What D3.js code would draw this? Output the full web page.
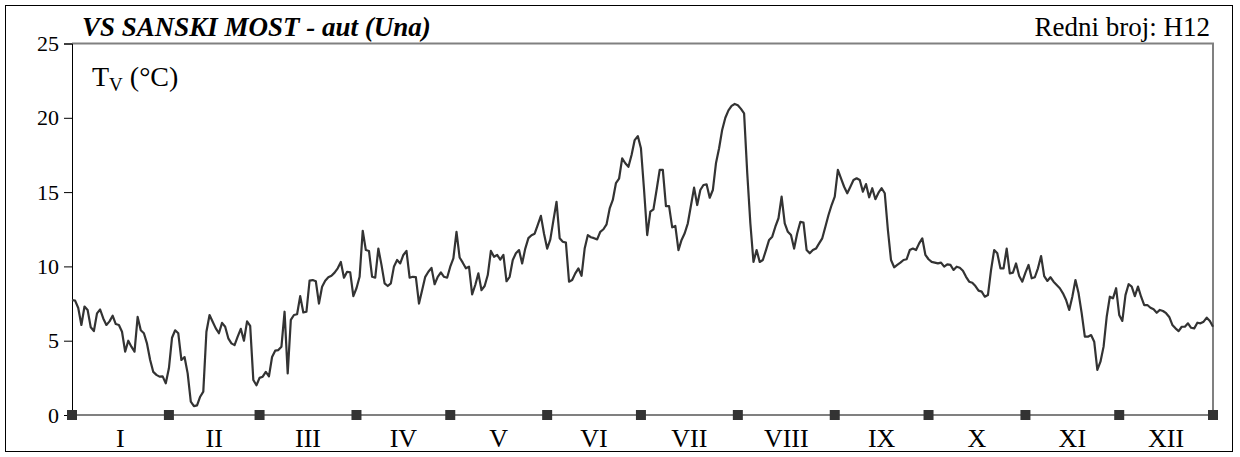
<!DOCTYPE html>
<html><head><meta charset="utf-8">
<script src="https://cdn.jsdelivr.net/npm/d3@7"></script>
<style>body{margin:0;background:#fff}svg{display:block}text{font-family:"Liberation Serif","Times New Roman",serif;fill:#000}</style>
</head><body><svg id="c" width="1240" height="457"></svg>
<script>
// Daily water temperature by month (°C)
const jan=[7.74,7.7,7.2,6.06,7.3,7.07,5.9,5.65,6.84,7.1,6.5,6.06,6.3,6.68,6.12,6.06,5.6,4.26,5.0,4.6,4.26,6.6,5.7,5.5,4.8,3.7,2.9,2.7,2.58,2.6,2.13];
const feb=[3.14,5.2,5.7,5.5,3.7,3.9,2.8,0.9,0.6,0.65,1.23,1.57,5.6,6.73,6.28,5.83,5.5,6.2,5.94,5.16,4.82,4.7,5.27,5.8,5.0,6.3,6.0,2.36,2.0];
const mar=[2.5,2.58,2.9,2.6,3.9,4.33,4.37,4.6,6.95,2.8,6.4,6.73,6.78,8.0,6.9,6.95,9.04,9.08,9.0,7.5,8.63,9.04,9.27,9.37,9.58,9.87,10.3,9.24,9.64,9.6,8.0];
const apr=[8.53,9.3,12.4,11.1,11.04,9.3,9.24,11.2,10.1,8.86,8.68,8.86,10.0,10.43,10.2,10.77,11.04,9.24,9.3,9.28,7.5,8.4,9.3,9.64,9.9,8.8,9.3,9.6,9.3,9.24];
const may=[9.98,10.54,12.33,10.6,10.25,9.87,9.98,8.12,8.75,9.53,8.4,8.68,9.42,11.04,10.65,10.77,10.45,10.77,9.0,9.3,10.43,10.88,11.1,10.2,11.2,11.9,12.1,12.2,12.8,13.4,12.2];
const jun=[11.2,11.8,13.1,14.35,11.9,11.66,11.6,8.97,9.08,9.53,9.87,9.37,11.2,12.1,11.96,11.9,11.82,12.33,12.5,12.83,13.9,14.47,15.6,15.9,17.27,16.94,16.7,17.5,18.5,18.77];
const jul=[17.95,15.14,12.11,13.68,13.84,15.14,16.49,16.49,14.06,14.06,12.63,12.72,11.1,11.78,12.23,12.9,14.1,15.3,14.13,15.14,15.48,15.52,14.62,15.14,16.94,17.95,19.2,20.0,20.5,20.8,20.93];
const aug=[20.85,20.6,20.3,16.3,12.9,10.3,11.1,10.3,10.43,11.1,11.78,12.0,12.67,13.24,14.7,12.9,12.33,12.11,11.2,12.23,13.0,12.95,11.1,10.88,11.1,11.2,11.55,11.89,12.67,13.46,14.13];
const sep=[14.7,16.49,15.93,15.36,14.92,15.36,15.81,15.93,15.81,15.03,15.54,14.65,15.26,14.52,14.96,15.26,14.92,12.45,10.43,9.94,10.1,10.25,10.43,10.48,11.1,11.2,11.1,11.55,11.89,10.77];
const oct=[10.48,10.3,10.25,10.2,10.25,9.98,10.14,10.1,9.76,9.98,9.91,9.71,9.3,8.97,8.9,8.68,8.37,8.3,7.96,8.07,9.76,11.1,10.88,9.87,9.87,11.2,9.53,9.58,10.2,9.35,8.97];
const nov=[9.58,10.1,9.2,9.27,9.87,10.7,9.35,9.02,9.27,8.97,8.75,8.53,8.19,7.74,7.07,7.96,9.08,8.19,6.84,5.27,5.27,5.38,4.93,3.03,3.59,4.6,6.62,7.96,7.85,8.53];
const dec=[6.73,6.33,8.07,8.8,8.64,8.0,8.64,7.96,7.4,7.4,7.22,7.11,6.88,7.07,7.0,6.85,6.6,6.06,5.83,5.65,5.94,5.94,6.17,5.87,5.83,6.21,6.17,6.28,6.55,6.33,5.94];
const months=["I","II","III","IV","V","VI","VII","VIII","IX","X","XI","XII"];
const yTicks=[0,5,10,15,20,25];
const title="VS SANSKI MOST - aut (Una)";
const rightTitle="Redni broj: H12";

const monthData=[jan,feb,mar,apr,may,jun,jul,aug,sep,oct,nov,dec];
const values=monthData.flat();
const starts=[];let acc=0;monthData.forEach(m=>{starts.push(acc);acc+=m.length;});
const bounds=starts.concat([values.length-1]);

const svg=d3.select("#c");
const L=72,R=1213,T=43.5,B=415;
const x=d3.scaleLinear().domain([0,values.length-1]).range([L,R]);
const y=d3.scaleLinear().domain([0,25]).range([B,T]);

// outer frame
svg.append("rect").attr("x",5.5).attr("y",5.5).attr("width",1227).attr("height",446).attr("fill","none").attr("stroke","#000").attr("stroke-width",1);
// plot border (grey)
svg.append("path").attr("d",`M${L},${T}H${R}V${B}H${L}`).attr("fill","none").attr("stroke","#808080").attr("stroke-width",2);

// y axis
const ya=svg.append("g").attr("transform",`translate(${L},0)`).call(d3.axisLeft(y).tickValues(yTicks).tickSize(8).tickPadding(5));
ya.select(".domain").attr("stroke","#000");
ya.selectAll(".tick line").attr("stroke","#000");
ya.selectAll(".tick text").attr("font-size",22).attr("font-family","Liberation Serif, Times New Roman, serif").attr("fill","#000");

// line
svg.append("path").datum(values).attr("fill","none").attr("stroke","#333").attr("stroke-width",2.2).attr("stroke-linejoin","round")
  .attr("d",d3.line().x((d,i)=>x(i)).y(d=>y(d)));

// month markers
svg.selectAll(".mk").data(bounds).join("rect").attr("x",d=>x(d)-5).attr("y",B-5).attr("width",10).attr("height",10).attr("fill","#333");

// month labels
svg.selectAll(".ml").data(months).join("text").attr("x",(d,i)=>(x(bounds[i])+x(bounds[i+1]))/2).attr("y",447)
  .attr("text-anchor","middle").attr("font-size",26).text(d=>d);

// titles
svg.append("text").attr("x",82).attr("y",36).attr("font-size",27).attr("font-weight","bold").attr("font-style","italic").text(title);
svg.append("text").attr("x",1210).attr("y",36).attr("text-anchor","end").attr("font-size",27).text(rightTitle);
const tl=svg.append("text").attr("x",92).attr("y",86).attr("font-size",28);
tl.append("tspan").text("T");
tl.append("tspan").attr("font-size",19).attr("dy",5).text("V");
tl.append("tspan").attr("dy",-5).text(" (°C)");
</script></body></html>
